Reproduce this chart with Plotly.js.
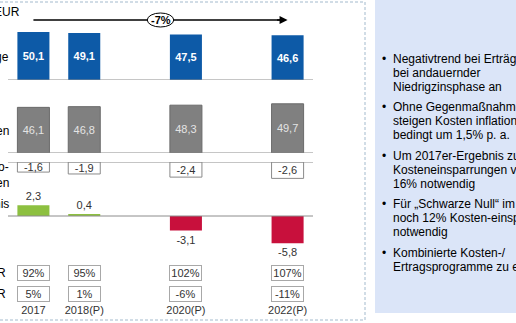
<!DOCTYPE html>
<html>
<head>
<meta charset="utf-8">
<script src="https://cdn.plot.ly/plotly-3.0.1.min.js"></script>
<style>html,body{margin:0;padding:0;background:#fff;}#chart{width:516px;height:323px;}</style>
</head>
<body>
<div id="chart"></div>
<script>
// ---------- data ----------
const years = [2017, 2018, 2020, 2022];
const yearLabels = ['2017', '2018(P)', '2020(P)', '2022(P)'];
const ertraege = [50.1, 49.1, 47.5, 46.6];
const kosten = [46.1, 46.8, 48.3, 49.7];
const risiko = [-1.6, -1.9, -2.4, -2.6];
const ergebnis = [2.3, 0.4, -3.1, -5.8];
const cir = [92, 95, 102, 107];
const ekr = [5, 1, -6, -11];
const unitLabel = 'Mio. EUR';
const trendLabel = '-7%';
const rowLabels = ['Erträge', 'Kosten', 'Risiko-', 'kosten', 'Ergebnis', 'CIR', 'EKR'];
const bullets = [
  ['Negativtrend bei Erträgen hält', 'bei andauernder', 'Niedrigzinsphase an'],
  ['Ohne Gegenmaßnahmen', 'steigen Kosten inflations-', 'bedingt um 1,5% p. a.'],
  ['Um 2017er-Ergebnis zu halten,', 'Kosteneinsparrungen von', '16% notwendig'],
  ['Für „Schwarze Null“ im Jahr 2022', 'noch 12% Kosten-einsparungen', 'notwendig'],
  ['Kombinierte Kosten-/', 'Ertragsprogramme zu entwickeln']
];

// ---------- helpers ----------
const W = 516, H = 323, L = 8, R = 203;
const PW = W - L - R;
const px = x => (x - L) / PW;          // pixel x -> paper
const py = y => 1 - y / H;             // pixel y -> paper
const fmt = v => v.toFixed(1).replace('.', ',');
function dom(base, ppu, lo, hi) {
  return [py(base - lo * ppu), py(base - hi * ppu)];
}
const FONT = 'Liberation Sans, Arial, sans-serif';
const barW = 0.63;

const traces = [
  {type: 'bar', x: years, y: ertraege, xaxis: 'x', yaxis: 'y', width: barW,
   marker: {color: '#0d5aa7'}, text: ertraege.map(v => '<b>' + fmt(v) + '</b>'), textposition: 'inside',
   insidetextanchor: 'middle', textangle: 0, constraintext: 'none',
   textfont: {color: '#ffffff', size: 11, family: FONT}, hoverinfo: 'skip'},
  {type: 'bar', x: years, y: kosten, xaxis: 'x', yaxis: 'y2', width: barW,
   marker: {color: '#808080', line: {color: '#6a6a6a', width: 1}}, text: kosten.map(fmt),
   textposition: 'inside', insidetextanchor: 'middle', textangle: 0, constraintext: 'none',
   textfont: {color: '#e4e4e4', size: 11, family: FONT}, hoverinfo: 'skip'},
  {type: 'bar', x: years, y: risiko, xaxis: 'x', yaxis: 'y3', width: barW,
   marker: {color: '#ffffff', line: {color: '#8a8a8a', width: 1}}, text: risiko.map(fmt),
   textposition: 'inside', insidetextanchor: 'middle', textangle: 0, constraintext: 'none',
   textfont: {color: '#333333', size: 11, family: FONT}, hoverinfo: 'skip'},
  {type: 'bar', x: years, y: ergebnis, xaxis: 'x', yaxis: 'y4', width: barW,
   marker: {color: ergebnis.map(v => v >= 0 ? '#8dc040' : '#c8103c')},
   text: ergebnis.map(fmt), textposition: 'outside', textangle: 0, constraintext: 'none',
   cliponaxis: false, textfont: {color: '#333333', size: 11, family: FONT}, hoverinfo: 'skip'}
];

const annotations = [];
// unit label
annotations.push({xref: 'paper', yref: 'paper', x: px(22), y: py(12), xanchor: 'right', yanchor: 'middle',
  text: unitLabel, showarrow: false, font: {size: 12, color: '#000', family: FONT}});
// row labels (cut by the page edge like the original)
const rowY = [57, 131, 167, 183, 204, 273, 294];
rowLabels.forEach((t, i) => {
  const rx = i >= 5 ? 8 : 11;
  annotations.push({xref: 'paper', yref: 'paper', x: px(rx), y: py(rowY[i]), xanchor: 'right', yanchor: 'middle',
    text: t, showarrow: false, font: {size: 12, color: '#000', family: FONT}});
});
// arrowhead of the trend line (line itself is a shape below the ellipse)
annotations.push({xref: 'x', yref: 'paper', x: years[years.length - 1], y: py(20),
  axref: 'pixel', ayref: 'pixel', ax: -12, ay: 0, text: '', showarrow: true,
  arrowhead: 2, arrowsize: 1, arrowwidth: 1.6, arrowcolor: '#000', standoff: 0, startstandoff: 0});
const midX = (years[0] + years[years.length - 1]) / 2;
annotations.push({xref: 'x', yref: 'paper', x: midX, y: py(20), xanchor: 'center', yanchor: 'middle',
  text: '<b>' + trendLabel + '</b>', showarrow: false,
  font: {size: 11, color: '#000', family: FONT}});
// CIR / EKR boxes
years.forEach((yr, i) => {
  annotations.push({xref: 'x', yref: 'paper', x: yr, y: py(273), xanchor: 'center', yanchor: 'middle',
    text: cir[i] + '%', showarrow: false,
    width: 31, height: 14, bordercolor: '#a8a8a8', borderwidth: 1, borderpad: 0, bgcolor: '#fff',
    font: {size: 11, color: '#333', family: FONT}});
  annotations.push({xref: 'x', yref: 'paper', x: yr, y: py(294), xanchor: 'center', yanchor: 'middle',
    text: ekr[i] + '%', showarrow: false,
    width: 31, height: 14, bordercolor: '#a8a8a8', borderwidth: 1, borderpad: 0, bgcolor: '#fff',
    font: {size: 11, color: '#333', family: FONT}});
});
// bullets
const bulletStart = [59, 107, 156, 204, 253];
const lineH = 14;
bullets.forEach((lines, b) => {
  annotations.push({xref: 'paper', yref: 'paper', x: px(384), y: py(bulletStart[b]), xanchor: 'center', yanchor: 'middle',
    text: '•', showarrow: false, font: {size: 12, color: '#000', family: FONT}});
  lines.forEach((ln, j) => {
    annotations.push({xref: 'paper', yref: 'paper', x: px(391), y: py(bulletStart[b] + j * lineH), xanchor: 'left', yanchor: 'middle',
      text: ln, showarrow: false, align: 'left', font: {size: 12, color: '#000', family: FONT}});
  });
});

const baseLine = yref => ({type: 'line', xref: 'paper', x0: 0, x1: 1, yref: yref, y0: 0, y1: 0,
  line: {color: '#8c8c8c', width: 1}, layer: 'above'});

const shapes = [
  // right info panel
  {type: 'rect', xref: 'paper', yref: 'paper', x0: px(375), x1: px(560), y0: py(313), y1: py(-5),
   fillcolor: '#dbe5f8', line: {width: 0}, layer: 'below'},
  // dashed frame of chart panel
  {type: 'rect', xref: 'paper', yref: 'paper', x0: px(-20), x1: px(365), y0: py(320), y1: py(2),
   fillcolor: 'rgba(0,0,0,0)', line: {color: '#a3bacd', width: 1, dash: '3px,2px'}, layer: 'below'},
  baseLine('y'), baseLine('y2'), baseLine('y3'), baseLine('y4'),
  // trend line from first to last year
  {type: 'line', xref: 'x', yref: 'paper', x0: years[0], x1: years[years.length - 1] - 0.1, y0: py(20), y1: py(20),
   line: {color: '#000', width: 1.6}, layer: 'above'},
  // ellipse round the trend label
  {type: 'circle', xref: 'x', yref: 'paper', x0: midX - 0.26, x1: midX + 0.26, y0: py(27), y1: py(13),
   fillcolor: '#ffffff', line: {color: '#000', width: 1}, layer: 'above'}
];

const layout = {
  width: W, height: H,
  margin: {l: L, r: R, t: 0, b: 0, pad: 0},
  paper_bgcolor: '#ffffff', plot_bgcolor: 'rgba(0,0,0,0)',
  showlegend: false, barmode: 'overlay',
  font: {family: FONT, size: 11, color: '#333'},
  xaxis: {range: [2016.5, 2022.5], tickvals: years, ticktext: yearLabels, showgrid: false, zeroline: false,
    showline: false, ticks: '', anchor: 'free', position: py(302), fixedrange: true,
    tickfont: {size: 11, color: '#333', family: FONT}},
  yaxis: {domain: dom(80, 0.958, 0, 55), range: [0, 55], visible: false, fixedrange: true},
  yaxis2: {domain: dom(153, 0.99, 0, 55), range: [0, 55], visible: false, fixedrange: true, anchor: 'x'},
  yaxis3: {domain: dom(162, 6.3, -3, 0), range: [-3, 0], visible: false, fixedrange: true, anchor: 'x'},
  yaxis4: {domain: dom(216, 4.7, -7, 3), range: [-7, 3], visible: false, fixedrange: true, anchor: 'x'},
  annotations: annotations,
  shapes: shapes
};

Plotly.newPlot('chart', traces, layout, {displayModeBar: false, staticPlot: true});
</script>
</body>
</html>
